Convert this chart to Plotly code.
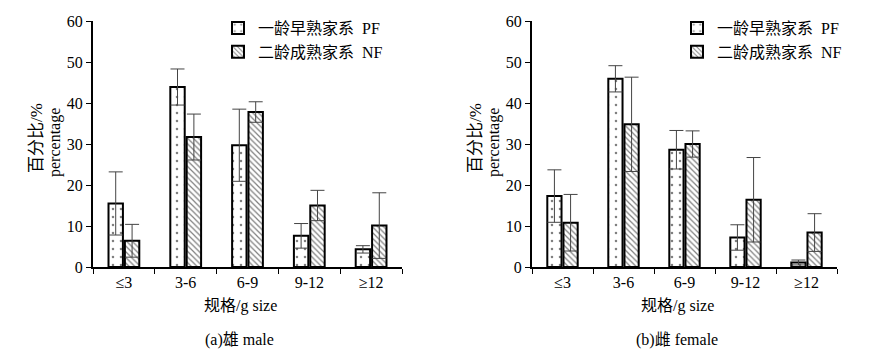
import plotly.graph_objects as go

categories = ["≤3", "3-6", "6-9", "9-12", "≥12"]

male_pf = [15.5, 43.9, 29.7, 7.6, 4.3]
male_pf_err = [7.7, 4.4, 8.8, 3.0, 0.9]
male_nf = [6.4, 31.7, 37.8, 15.0, 10.1]
male_nf_err = [4.0, 5.6, 2.5, 3.7, 8.0]

female_pf = [17.3, 45.9, 28.6, 7.2, 1.1]
female_pf_err = [6.4, 3.2, 4.7, 3.1, 0.6]
female_nf = [10.8, 34.8, 30.0, 16.4, 8.4]
female_nf_err = [6.9, 11.5, 3.2, 10.3, 4.6]

pf_name = "一龄早熟家系  PF"
nf_name = "二龄成熟家系  NF"
y_title_cn = "百分比/%"
y_title_en = "percentage"
x_title = "规格/g size"
captions = ["(a)雄 male", "(b)雌 female"]

SERIF = "Liberation Serif, Noto Sans CJK SC, serif"

# the page body has an 8px margin; work in window pixels and shift
OFF = 8
W, H = 880 - OFF, 361 - OFF


def px(xw):
    return (xw - OFF) / W


def py(yw):
    return 1 - (yw - OFF) / H


fig = go.Figure()

panels = [
    (male_pf, male_pf_err, male_nf, male_nf_err, "x", "y", "legend"),
    (female_pf, female_pf_err, female_nf, female_nf_err, "x2", "y2", "legend2"),
]

for pf, pfe, nf, nfe, xa, ya, lg in panels:
    fig.add_trace(go.Bar(
        x=categories, y=pf, name=pf_name, xaxis=xa, yaxis=ya, legend=lg,
        marker=dict(color="white", line=dict(color="black", width=2),
                    pattern=dict(shape=".", fgcolor="black", bgcolor="white",
                                 size=8, solidity=0.08)),
        error_y=dict(type="data", array=pfe, visible=True, color="#444",
                     thickness=1, width=7),
    ))
    fig.add_trace(go.Bar(
        x=categories, y=nf, name=nf_name, xaxis=xa, yaxis=ya, legend=lg,
        marker=dict(color="white", line=dict(color="black", width=2),
                    pattern=dict(shape="\\", fgcolor="black", bgcolor="white",
                                 size=4, solidity=0.3)),
        error_y=dict(type="data", array=nfe, visible=True, color="#444",
                     thickness=1, width=7),
    ))

ydom = [py(267), py(21)]
xdom1 = [px(93), px(402)]
xdom2 = [px(532), px(837)]

xaxis_common = dict(
    type="category", range=[-0.5, 4.5], showline=True, linecolor="black",
    linewidth=2, ticks="outside", tickson="boundaries", ticklen=5,
    tickcolor="black", tickwidth=1, showgrid=False, zeroline=False,
    tickfont=dict(family=SERIF, size=16, color="black"), automargin=False,
)
yaxis_common = dict(
    range=[0, 60], tickvals=[0, 10, 20, 30, 40, 50, 60], showline=True,
    linecolor="black", linewidth=2, ticks="outside", ticklen=5,
    tickcolor="black", tickwidth=1, showgrid=False, zeroline=False,
    tickfont=dict(family=SERIF, size=16, color="black"), automargin=False,
)

legend_common = dict(
    font=dict(family=SERIF, size=16, color="black"), bgcolor="rgba(0,0,0,0)",
    xanchor="left", yanchor="top", tracegroupgap=0, itemwidth=30,
)

fig.update_layout(
    width=W, height=H, margin=dict(l=0, r=0, t=0, b=0),
    paper_bgcolor="white", plot_bgcolor="white",
    barmode="group", bargap=0.47, bargroupgap=0.12,
    xaxis=dict(domain=xdom1, anchor="y", **xaxis_common),
    yaxis=dict(domain=ydom, anchor="x", **yaxis_common),
    xaxis2=dict(domain=xdom2, anchor="y2", **xaxis_common),
    yaxis2=dict(domain=ydom, anchor="x2", **yaxis_common),
    legend=dict(x=px(218), y=py(11), **legend_common),
    legend2=dict(x=px(677), y=py(11), **legend_common),
    showlegend=True,
)

annotations = []
for x0, x1, cap in ((93, 402, captions[0]), (532, 837, captions[1])):
    cx = (x0 + x1) / 2
    annotations.append(dict(
        text=y_title_cn, x=px(x0 - 57), y=py(138), textangle=-90,
        font=dict(family=SERIF, size=17, color="black")))
    annotations.append(dict(
        text=y_title_en, x=px(x0 - 38), y=py(143), textangle=-90,
        font=dict(family=SERIF, size=16, color="black")))
    annotations.append(dict(
        text=x_title, x=px(cx - 7), y=py(306),
        font=dict(family=SERIF, size=16, color="black")))
    annotations.append(dict(
        text=cap, x=px(cx - 8), y=py(340),
        font=dict(family=SERIF, size=16, color="black")))

for a in annotations:
    a.update(xref="paper", yref="paper", showarrow=False,
             xanchor="center", yanchor="middle")
fig.update_layout(annotations=annotations)

fig.write_html("out.html")
